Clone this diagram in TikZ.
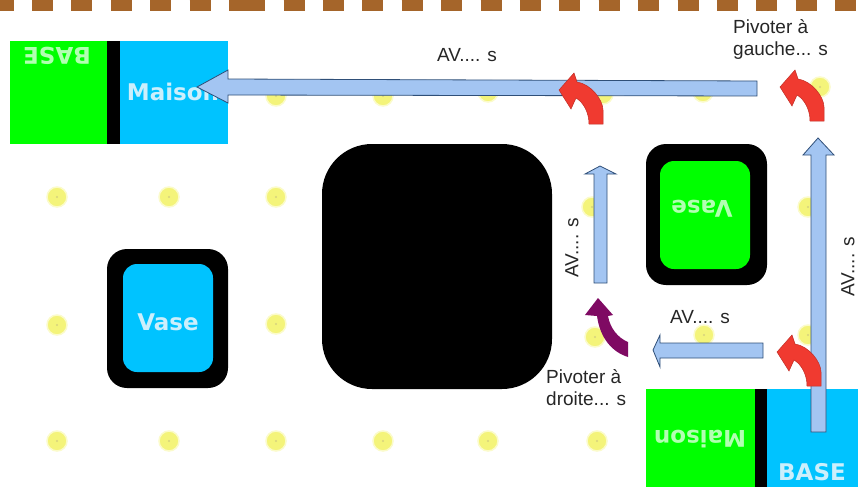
\documentclass[tikz,border=0pt]{standalone}
\usepackage{fontspec}
\setmainfont{Liberation Sans}
\newfontfamily\tagfont{DejaVu Sans}
\usetikzlibrary{positioning}
\definecolor{tileblue}{HTML}{00C3FF}
\definecolor{tilegreen}{HTML}{00FF00}
\definecolor{trackbrown}{HTML}{A5652A}
\definecolor{arrowblue}{HTML}{A3C5F2}
\definecolor{arrowedge}{HTML}{2F4F78}
\definecolor{turnred}{HTML}{F03A30}
\definecolor{turnpurple}{HTML}{7F0A63}
\definecolor{spotyellow}{HTML}{F4F47A}
\tikzset{
  spot/.style={circle, fill=spotyellow, draw=spotyellow!40, line width=1.5pt, minimum size=20pt, inner sep=0pt,
    path picture={\fill[yellow!70!black!60] (path picture bounding box.center) circle (1.2pt);}},
  tag/.style={font=\tagfont\bfseries\fontsize{23}{23}\selectfont, text=white!80!cyan, inner sep=0pt},
  greentag/.style={tag, text=white!70!green},
  note/.style={font=\fontsize{19}{22}\selectfont, text=black!85, inner sep=0pt, align=left},
  blockarrow/.style={fill=arrowblue, draw=arrowedge, line width=0.8pt},
  turnleft/.pic={\fill[turnred, draw=turnred!80!black, line width=0.5pt] (0,0) -- (-14,0) .. controls (-14,-12) and (-20,-22) .. (-27,-26)
    -- (-32,-15) -- (-44,-34) -- (-29,-51) -- (-26,-42) .. controls (-12,-40) and (0,-24) .. (0,-14) -- cycle;}
}
\begin{document}
\begin{tikzpicture}[x=1pt, y=-1pt]
\useasboundingbox (0,0) rectangle (858,487);
% track along the top edge, broken by one long sleeper
\draw[trackbrown, line width=11pt, dash pattern=on 21pt off 18.4pt, dash phase=7.4pt] (0,5.5) -- (229,5.5);
\fill[trackbrown] (229,0) rectangle (265,11);
\draw[trackbrown, line width=11pt, dash pattern=on 21pt off 18.4pt] (283.5,5.5) -- (858,5.5);
% floor spots, row by row
\node[spot] (s11) at (276,96) {};
\node[spot] (s12) at (383,96) {};
\node[spot] (s13) at (488,92) {};
\node[spot] (s14) at (603,94) {};
\node[spot] (s15) at (703,92) {};
\node[spot] (s16) at (820,87) {};
\node[spot] (s21) at (57,197) {};
\node[spot] (s22) at (169,197) {};
\node[spot] (s23) at (276,197) {};
\node[spot] (s24) at (592,207) {};
\node[spot] (s25) at (808,207) {};
\node[spot] (s31) at (57,325) {};
\node[spot] (s32) at (276,324) {};
\node[spot] (s33) at (595,337) {};
\node[spot] (s34) at (704,335) {};
\node[spot] (s35) at (808,335) {};
\node[spot] (s41) at (57,441) {};
\node[spot] (s42) at (169,441) {};
\node[spot] (s43) at (276,441) {};
\node[spot] (s44) at (383,441) {};
\node[spot] (s45) at (488,441) {};
\node[spot] (s46) at (597,441) {};
% start and end tiles
\fill[tilegreen] (10,41) rectangle (107,144);
\fill[black] (107,41) rectangle (120,144);
\fill[tileblue] (120,41) rectangle (228,144);
\fill[tilegreen] (646,389) rectangle (755,487);
\fill[black] (755,389) rectangle (767,487);
\fill[tileblue] (767,389) rectangle (858,487);
% obstacle and the two vases
\fill[black, rounded corners=50pt] (322,144) rectangle (552,389);
\fill[black, rounded corners=20pt] (107,249) rectangle (228,388);
\fill[tileblue, rounded corners=14pt] (123,264) rectangle (213,372);
\fill[black, rounded corners=20pt] (646,144) rectangle (767,285);
\fill[tilegreen, rounded corners=14pt] (660,161) rectangle (750,269);
\node[greentag, rotate=180] (basetop) at (57,56) {BASE};
\node[tag] (maisontop) at (173,92) {Maison};
\node[tag] (vaseleft) at (168,322) {Vase};
\node[greentag, rotate=180] (vaseright) at (702,209) {Vase};
\node[greentag, rotate=180] (maisonbot) at (700,439) {Maison};
\node[tag] (basebot) at (812,472) {BASE};
% moves, forward arrows first so the turns sit above them
\draw[blockarrow] (757,81) -- (228,79) -- (228,70) -- (197,87) -- (228,103) -- (228,95) -- (757,96) -- cycle;
\draw[blockarrow] (826,432) -- (826,155) -- (834,155) -- (818,138) -- (803,155) -- (811,155) -- (811,432) -- cycle;
\draw[blockarrow] (607,283) -- (607,174) -- (616,174) -- (600,166) -- (585,174) -- (594,174) -- (594,283) -- cycle;
\draw[blockarrow] (763,343) -- (660,343) -- (660,335) -- (653,350) -- (660,367) -- (660,358) -- (763,358) -- cycle;
\pic at (824,121) {turnleft};
\pic at (603,124) {turnleft};
\pic at (821,386) {turnleft};
\fill[turnpurple] (628,357) .. controls (612,352) and (600,338) .. (597,316) -- (585,315) -- (598,298) -- (613,315) -- (608,316) .. controls (610,328) and (618,338) .. (628,342) -- cycle;
% timing labels
\node[note] (avtop) at (467,55) {AV.... s};
\node[note, rotate=90] (avmid) at (572,248) {AV.... s};
\node[note, rotate=90] (avright) at (848,267) {AV.... s};
\node[note] (avlow) at (700,317) {AV.... s};
\node[note, anchor=west] (pivotleft) at (733,39) {Pivoter à\\gauche... s};
\node[note, anchor=west] (pivotright) at (546,388) {Pivoter à\\droite... s};
\end{tikzpicture}
\end{document}
